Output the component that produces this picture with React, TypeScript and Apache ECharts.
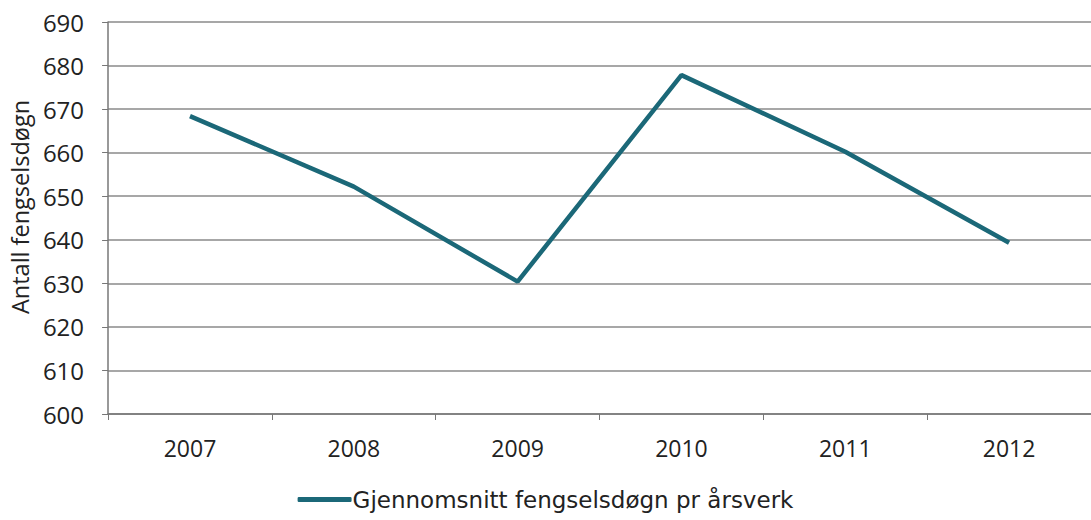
import React, { useEffect, useRef } from "react";
import * as echarts from "echarts";

const categories = ["2007", "2008", "2009", "2010", "2011", "2012"];
const values = [668.4, 652.2, 630.4, 677.8, 660.2, 639.3];
const seriesName = "Gjennomsnitt fengselsdøgn pr årsverk";
const yAxisName = "Antall fengselsdøgn";

export default function App() {
  const ref = useRef<HTMLDivElement>(null);
  useEffect(() => {
    if (!ref.current) return;
    const chart = echarts.init(ref.current, null, { renderer: "svg" });
    chart.setOption({
      animation: false,
      backgroundColor: "#ffffff",
      grid: { left: 106, right: -11, top: 22, bottom: 106 },
      legend: {
        bottom: 4,
        left: "center",
        itemWidth: 54,
        itemHeight: 5,
        itemGap: 0,
        icon: "roundRect",
        textStyle: { fontFamily: "DejaVu Sans", fontSize: 23, color: "#222", padding: [0, 0, 0, -4] },
        data: [{ name: seriesName, icon: "roundRect" }],
      },
      xAxis: {
        type: "category",
        data: categories,
        boundaryGap: true,
        axisLine: { show: true, lineStyle: { color: "#777", width: 1.5 } },
        axisTick: { show: true, length: 6, lineStyle: { color: "#777" } },
        axisLabel: { fontFamily: "Open Sans", fontSize: 23, color: "#222", margin: 22 },
      },
      yAxis: {
        type: "value",
        min: 600,
        max: 690,
        interval: 10,
        name: yAxisName,
        nameLocation: "middle",
        nameGap: 73,
        nameTextStyle: { fontFamily: "Open Sans", fontSize: 23.5, color: "#222", padding: [0, 0, 0, 22] },
        axisLine: { show: true, lineStyle: { color: "#777", width: 1.5 } },
        axisTick: { show: true, inside: false, length: 6, lineStyle: { color: "#777" } },
        axisLabel: { fontFamily: "Open Sans", fontSize: 24, color: "#222", margin: 24 },
        splitLine: { show: true, lineStyle: { color: "#8a8a8a", width: 1.5 } },
      },
      series: [
        {
          name: seriesName,
          type: "line",
          data: values,
          symbol: "none",
          lineStyle: { color: "#1b6878", width: 4.5 },
          itemStyle: { color: "#1b6878" },
        },
      ],
    });
    return () => chart.dispose();
  }, []);
  return (
    <div
      ref={ref}
      style={{ position: "fixed", left: 0, top: 0, width: 1091, height: 520 }}
    />
  );
}
